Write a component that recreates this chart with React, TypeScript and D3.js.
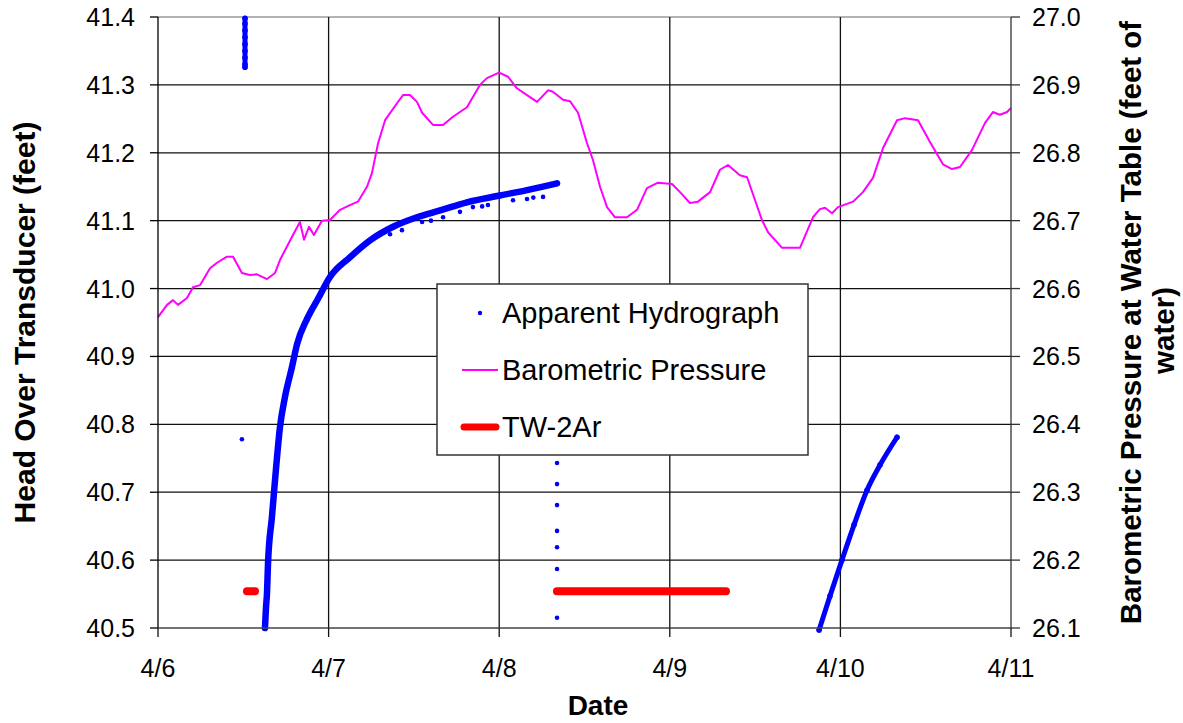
import React from "react";
import * as d3 from "d3";

// ---- data (x = days since 4/6 00:00) ----
const dateTicks = ["4/6", "4/7", "4/8", "4/9", "4/10", "4/11"];
const headTicks = [40.5, 40.6, 40.7, 40.8, 40.9, 41.0, 41.1, 41.2, 41.3, 41.4];
const baroTicks = [26.1, 26.2, 26.3, 26.4, 26.5, 26.6, 26.7, 26.8, 26.9, 27.0];

// Barometric pressure (right axis)
const baroDays = [
  0.0, 0.053, 0.088, 0.117, 0.17, 0.205, 0.246, 0.305, 0.346, 0.404, 0.44, 0.492, 0.539, 0.58, 0.639,
  0.686, 0.715, 0.791, 0.832, 0.856, 0.885, 0.914, 0.961, 1.008, 1.067, 1.125, 1.172, 1.225, 1.254,
  1.29, 1.331, 1.401, 1.436, 1.477, 1.518, 1.548, 1.612, 1.671, 1.729, 1.811, 1.887, 1.928, 1.999,
  2.052, 2.104, 2.163, 2.222, 2.286, 2.315, 2.374, 2.415, 2.462, 2.515, 2.55, 2.591, 2.632, 2.679,
  2.749, 2.808, 2.866, 2.931, 3.013, 3.06, 3.118, 3.165, 3.236, 3.294, 3.341, 3.411, 3.453, 3.54,
  3.576, 3.658, 3.763, 3.839, 3.88, 3.91, 3.951, 3.986, 4.074, 4.132, 4.191, 4.25, 4.332, 4.379,
  4.455, 4.525, 4.601, 4.654, 4.701, 4.771, 4.848, 4.894, 4.935, 4.977, 5.0,
];
const baroValues = [
  26.558, 26.576, 26.583, 26.576, 26.586, 26.602, 26.605, 26.63, 26.638, 26.647, 26.647, 26.623,
  26.62, 26.621, 26.614, 26.623, 26.642, 26.679, 26.698, 26.672, 26.691, 26.679, 26.7, 26.701,
  26.716, 26.723, 26.728, 26.75, 26.77, 26.814, 26.848, 26.873, 26.885, 26.885, 26.875, 26.859,
  26.841, 26.841, 26.853, 26.867, 26.9, 26.91, 26.918, 26.912, 26.895, 26.885, 26.875, 26.892,
  26.89, 26.878, 26.876, 26.859, 26.814, 26.789, 26.75, 26.72, 26.705, 26.705, 26.716, 26.748,
  26.756, 26.754, 26.742, 26.726, 26.728, 26.742, 26.775, 26.782, 26.767, 26.764, 26.701, 26.683,
  26.66, 26.66, 26.705, 26.717, 26.719, 26.711, 26.72, 26.728, 26.742, 26.763, 26.807, 26.848,
  26.851, 26.848, 26.816, 26.783, 26.776, 26.779, 26.804, 26.844, 26.86, 26.856, 26.86, 26.866,
];

// Apparent hydrograph (left axis) – dense runs of logger readings
const hydroRun1Days = [0.51, 0.51, 0.51, 0.51, 0.51, 0.51, 0.51, 0.51, 0.51];
const hydroRun1Values = [41.398, 41.39, 41.38, 41.37, 41.36, 41.35, 41.34, 41.33, 41.326];
const hydroRun2Days = [
  0.627, 0.633, 0.639, 0.645, 0.668, 0.686, 0.715, 0.744, 0.785, 0.815, 0.873, 0.938, 1.008, 1.125,
  1.243, 1.378, 1.518, 1.653, 1.811, 2.004, 2.163, 2.339,
];
const hydroRun2Values = [
  40.5, 40.53, 40.552, 40.596, 40.664, 40.718, 40.796, 40.84, 40.884, 40.918, 40.955, 40.985, 41.017,
  41.046, 41.071, 41.091, 41.105, 41.115, 41.127, 41.137, 41.145, 41.155,
];
const hydroRun3Days = [3.875, 3.939, 4.009, 4.08, 4.156, 4.232, 4.332];
const hydroRun3Values = [40.497, 40.547, 40.6, 40.652, 40.703, 40.74, 40.781];
// scattered single readings
const hydroSingleDays = [
  0.492, 2.339, 2.339, 2.339, 2.339, 2.339, 2.339, 2.339, 1.43, 1.548, 1.671, 1.77, 1.846, 1.934,
  2.081, 2.163, 2.257, 1.36, 1.6, 1.9, 2.2,
];
const hydroSingleValues = [
  40.778, 40.743, 40.712, 40.681, 40.643, 40.619, 40.587, 40.515, 41.086, 41.098, 41.105, 41.113,
  41.12, 41.123, 41.13, 41.132, 41.135, 41.08, 41.1, 41.121, 41.134,
];

// TW-2Ar (left axis)
const twSegmentsStart = [0.504, 2.321];
const twSegmentsEnd = [0.586, 3.347];
const twValue = 40.554;

// ---- layout ----
const W = 1183;
const H = 723;
const L = 158;
const R = 1011;
const T = 17;
const B = 628;
const FONT = "'Liberation Sans', Arial, sans-serif";
const BLUE = "#0000ff";
const MAGENTA = "#ff00ff";
const RED = "#ff0000";

export default function App() {
  const x = d3.scaleLinear().domain([0, dateTicks.length - 1]).range([L, R]);
  const yL = d3.scaleLinear().domain([40.5, 41.4]).range([B, T]);
  const yR = d3.scaleLinear().domain([26.1, 27.0]).range([B, T]);

  const baroLine = d3
    .line<number>()
    .x((_, i) => x(baroDays[i]))
    .y((v) => yR(v))
    .curve(d3.curveLinear)(baroValues) as string;

  const runLine = (days: number[], vals: number[]) =>
    d3
      .line<number>()
      .x((_, i) => x(days[i]))
      .y((v) => yL(v))
      .curve(d3.curveMonotoneX)(vals) as string;

  const runs = [
    [hydroRun1Days, hydroRun1Values],
    [hydroRun2Days, hydroRun2Values],
    [hydroRun3Days, hydroRun3Values],
  ];

  return (
    <svg
      width={W}
      height={H}
      style={{ position: "absolute", left: 0, top: 0, background: "#fff" }}
      fontFamily={FONT}
    >
      <rect x={0} y={0} width={W} height={H} fill="#fff" />
      {/* gridlines */}
      {headTicks.map((t, i) =>
        i > 0 && i < headTicks.length - 1 ? (
          <line key={"hg" + i} x1={L} x2={R} y1={yL(t)} y2={yL(t)} stroke="#111" strokeWidth={1.3} />
        ) : null
      )}
      <line x1={L} x2={R} y1={T} y2={T} stroke="#9a9a9a" strokeWidth={1.3} />
      {dateTicks.map((_, i) =>
        i > 0 && i < dateTicks.length - 1 ? (
          <line key={"vg" + i} x1={x(i)} x2={x(i)} y1={T} y2={B} stroke="#111" strokeWidth={1.3} />
        ) : null
      )}

      {/* barometric pressure */}
      <path d={baroLine} fill="none" stroke={MAGENTA} strokeWidth={2} strokeLinejoin="round" />

      {/* TW-2Ar */}
      {twSegmentsStart.map((s, i) => (
        <line
          key={"tw" + i}
          x1={x(s) + 3}
          x2={x(twSegmentsEnd[i]) - 3}
          y1={yL(twValue)}
          y2={yL(twValue)}
          stroke={RED}
          strokeWidth={8}
          strokeLinecap="round"
        />
      ))}

      {/* apparent hydrograph */}
      {runs.map(([d, v], i) => (
        <path
          key={"run" + i}
          d={runLine(d, v)}
          fill="none"
          stroke={BLUE}
          strokeWidth={i === 1 ? 6.5 : 5}
          strokeLinecap="round"
        />
      ))}
      {runs.map(([d, v], i) =>
        v.map((val, j) => <circle key={"rd" + i + "_" + j} cx={x(d[j])} cy={yL(val)} r={2.8} fill={BLUE} />)
      )}
      {hydroSingleValues.map((v, i) => (
        <circle key={"sd" + i} cx={x(hydroSingleDays[i])} cy={yL(v)} r={2.3} fill={BLUE} />
      ))}

      {/* axes */}
      <line x1={L} x2={L} y1={T} y2={B} stroke="#000" strokeWidth={1.3} />
      <line x1={R} x2={R} y1={T} y2={B} stroke="#333" strokeWidth={1.3} />
      <line x1={L} x2={R} y1={B} y2={B} stroke="#444" strokeWidth={1.3} />
      {headTicks.map((t, i) => (
        <g key={"lt" + i}>
          <line x1={L - 8} x2={L} y1={yL(t)} y2={yL(t)} stroke="#000" strokeWidth={1.3} />
          <text x={L - 23} y={yL(t)} dy="0.36em" textAnchor="end" fontSize={25} fill="#000">
            {t.toFixed(1)}
          </text>
        </g>
      ))}
      {baroTicks.map((t, i) => (
        <g key={"rt" + i}>
          <line x1={R} x2={R + 9} y1={yR(t)} y2={yR(t)} stroke="#333" strokeWidth={1.3} />
          <text x={R + 21} y={yR(t)} dy="0.36em" textAnchor="start" fontSize={25} fill="#000">
            {t.toFixed(1)}
          </text>
        </g>
      ))}
      {dateTicks.map((lab, i) => (
        <g key={"bt" + i}>
          <line x1={x(i)} x2={x(i)} y1={B} y2={B + 9} stroke="#111" strokeWidth={1.3} />
          <text x={x(i)} y={677} textAnchor="middle" fontSize={25} fill="#000">
            {lab}
          </text>
        </g>
      ))}

      {/* axis titles */}
      <text x={598} y={715} textAnchor="middle" fontSize={28} fontWeight="bold" fill="#000">
        Date
      </text>
      <text
        transform={`translate(35, ${(T + B) / 2}) rotate(-90)`}
        textAnchor="middle"
        fontSize={30}
        fontWeight="bold"
        fill="#000"
      >
        Head Over Transducer (feet)
      </text>
      <text
        transform={`translate(1141, ${(T + B) / 2}) rotate(-90)`}
        textAnchor="middle"
        fontSize={29.5}
        fontWeight="bold"
        fill="#000"
      >
        Barometric Pressure at Water Table (feet of
      </text>
      <text
        transform={`translate(1174, ${(T + B) / 2 + 8}) rotate(-90)`}
        textAnchor="middle"
        fontSize={29.5}
        fontWeight="bold"
        fill="#000"
      >
        water)
      </text>

      {/* legend */}
      <rect x={437} y={284} width={371} height={171} fill="#fff" stroke="#333" strokeWidth={1.5} />
      <circle cx={480} cy={313} r={2.2} fill={BLUE} />
      <text x={502} y={323} fontSize={29} fill="#000">
        Apparent Hydrograph
      </text>
      <line x1={462} x2={498} y1={370} y2={370} stroke={MAGENTA} strokeWidth={2} />
      <text x={502} y={380} fontSize={29} fill="#000">
        Barometric Pressure
      </text>
      <line x1={464} x2={496} y1={427} y2={427} stroke={RED} strokeWidth={7} strokeLinecap="round" />
      <text x={502} y={437} fontSize={29} fill="#000">
        TW-2Ar
      </text>
    </svg>
  );
}
